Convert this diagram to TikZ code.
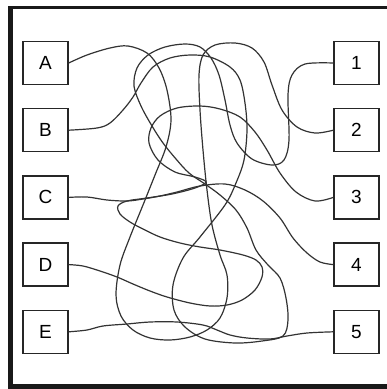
\documentclass[tikz,border=0pt]{standalone}
\usepackage{fontspec}
\setmainfont{Liberation Sans}
\begin{document}
\begin{tikzpicture}[x=1pt,y=-1pt,
  box/.style={draw=black!85,line width=1.4pt,minimum width=45pt,minimum height=43pt,inner sep=0pt,font=\fontsize{19}{19}\selectfont,fill=white},
  wire/.style={draw=black!80,line width=1.2pt}]
\useasboundingbox (0,0) rectangle (387,389);
% frame with shadow
\fill[black!90] (8,5.5) rectangle (400,389);
\fill[white] (13,9) rectangle (400,384);
% boxes
\foreach \n/\y in {A/63,B/130.2,C/197.4,D/264.6,E/331.8}
  \node[box] (\n) at (45.5,\y) {\n};
\foreach \n/\y in {1/63,2/130.2,3/197.4,4/264.6,5/331.8}
  \node[box] (r\n) at (356.5,\y) {\n};
% A -> 2
\draw[wire] plot[smooth,tension=0.55] coordinates {(A.east) (87,55) (110,48) (128,46) (147,53) (159,68) (167,90) (171,120) (166,147) (155,175) (143,205) (130,237) (120,265) (116,295) (121,316) (133,330) (150,338) (170,340) (190,337) (207,330) (220,318) (227,298) (227,275) (220,255) (212,225) (207,190) (203,150) (200,110) (199,75) (203,55) (215,45) (235,43) (252,48) (264,62) (272,85) (282,110) (297,127) (315,133) (r2.west)};
% B -> 1
\draw[wire] plot[smooth,tension=0.55] coordinates {(B.east) (97,128) (110,123) (123,110) (133,97) (141,83) (153,67) (170,58) (190,55) (210,57) (230,67) (240,80) (245,103) (247,130) (244,160) (236,183) (225,205) (200,237) (183,258) (173,285) (174,310) (185,327) (205,339) (235,343) (262,341) (283,336) (288,320) (286,298) (280,278) (268,265) (256,250) (247,228) (236,210) (220,195) (205,184) (189,173) (176,159) (163,143) (152,126) (141,106) (134,86) (137,68) (148,55) (165,47) (185,44) (200,47) (211,58) (219,75) (225,100) (230,125) (237,143) (252,159) (272,165) (284,160) (289,140) (288,95) (292,75) (305,64) (r1.west)};
% C -> 4
\draw[wire] plot[smooth,tension=0.55] coordinates {(C.east) (87,197) (107,200) (127,201) (143,199) (160,196) (177,192) (200,186) (225,184) (245,190) (263,201) (280,218) (293,238) (307,253) (320,262) (r4.west)};
% D -> 3
\draw[wire] plot[smooth,tension=0.55] coordinates {(D.east) (83,266) (100,271) (117,277) (133,284) (150,291) (167,297) (190,303) (210,306) (227,305) (242,300) (255,290) (262,277) (262,267) (256,260) (243,255) (220,250) (200,247) (180,243) (160,237) (143,229) (130,222) (120,214) (118,206) (127,201) (147,198) (172,194) (195,188) (206,182) (195,177) (175,172) (158,160) (149,143) (151,128) (160,116) (177,108) (200,106) (220,109) (240,117) (255,132) (267,150) (280,173) (296,192) (315,201) (r3.west)};
% E -> 5
\draw[wire] plot[smooth,tension=0.55] coordinates {(E.east) (87,330) (103,326) (127,324) (150,322) (177,322) (203,325) (217,330) (230,335) (247,338) (270,339) (287,336) (307,333) (r5.west)};
\end{tikzpicture}
\end{document}
